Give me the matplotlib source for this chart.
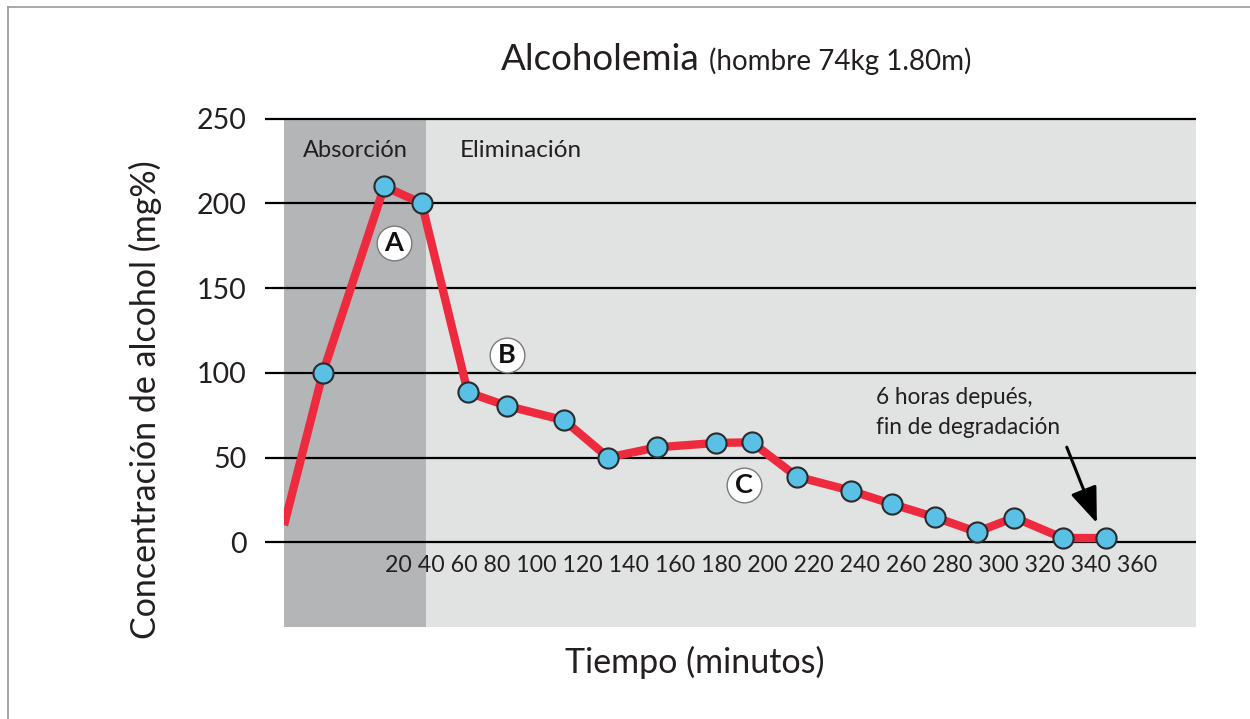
import matplotlib
matplotlib.use("Agg")
import matplotlib.pyplot as plt
from matplotlib.lines import Line2D

# ---------------- data ----------------
minutes = [0, 16.4, 42.3, 58.1, 77.5, 93.9, 118.1, 136.7, 157.2, 182.1, 197.3,
           216.2, 239.1, 256.5, 274.7, 292.2, 308.0, 328.4, 346.6]
alcohol = [10, 100, 210, 200, 88.5, 80.5, 72, 50, 56, 58.6, 59,
           38.8, 30.4, 22.5, 14.7, 6.1, 14.6, 2.5, 2.5]
has_marker = [False] + [True] * 18

y_ticks = [0, 50, 100, 150, 200, 250]
x_labels = ["20", "40", "60", "80", "100", "120", "140", "160", "180", "200",
            "220", "240", "260", "280", "300", "320", "340", "360"]
absorption_end = 60

title_main = "Alcoholemia"
title_sub = "(hombre 74kg 1.80m)"
x_title = "Tiempo (minutos)"
y_title = "Concentración de alcohol (mg%)"
phase_labels = ["Absorción", "Eliminación"]
letter_labels = ["A", "B", "C"]
letter_pos = [(46.4, 176.4), (93.9, 110.5), (194.1, 33.9)]
note_text = "6 horas depués,\nfin de degradación"

# ---------------- style ----------------
plt.rcParams['font.family'] = ['Lato', 'DejaVu Sans']
TXT = '#231f20'
RED = '#ee2a3e'
BLUE = '#5bc0e5'
DARK_BG = '#b3b5b6'
LIGHT_BG = '#e1e2e2'

W, H = 1250, 719
fig = plt.figure(figsize=(W / 100, H / 100), dpi=100)
fig.patch.set_facecolor('white')

# axes: x 0 at px 284, right edge px 1196; y 250 at px 118.6, -50 at px 627
ax = fig.add_axes([284 / W, 1 - 627 / H, (1196 - 284) / W, (627 - 118.6) / H])
ax.set_xlim(0, 384.6)
ax.set_ylim(-50, 250)
ax.set_facecolor(LIGHT_BG)
for s in ax.spines.values():
    s.set_visible(False)

ax.axvspan(0, absorption_end, color=DARK_BG, lw=0, zorder=0)

# grid lines (extend a bit left of the shaded area)
ax.hlines(y_ticks, -19 / 912, 1, transform=ax.get_yaxis_transform(),
          color='black', lw=1.6, clip_on=False, zorder=1)

ax.set_xticks([])
ax.set_yticks(y_ticks, labels=[str(v) for v in y_ticks])
ax.tick_params(axis='y', length=0, pad=27, labelsize=20.5, labelcolor=TXT)

# x labels as one run of text just under the 0 line
ax.text(205.4, -17.3, " ".join(x_labels), ha='center', va='baseline',
        fontsize=16.7, color=TXT, zorder=2)

# phase labels
ax.text(absorption_end / 2, 227.3, phase_labels[0], ha='center', va='baseline',
        fontsize=17, color=TXT)
ax.text(74.2, 227.3, phase_labels[1], ha='left', va='baseline',
        fontsize=17.5, color=TXT)

# line + markers
ax.plot(minutes, alcohol, color=RED, lw=6, solid_joinstyle='round',
        solid_capstyle='butt', zorder=3)
mx = [m for m, f in zip(minutes, has_marker) if f]
my = [a for a, f in zip(alcohol, has_marker) if f]
ax.plot(mx, my, 'o', ms=14.5, mfc=BLUE, mec='#2b2b2b', mew=1.5, zorder=4,
        clip_on=False)

# letter badges
for lab, (lx, ly) in zip(letter_labels, letter_pos):
    ax.plot(lx, ly, 'o', ms=25, mfc='white', mec='#7a7a7a', mew=1, zorder=5)
    ax.text(lx, ly, lab, ha='center', va='center', fontsize=19.5,
            fontweight='bold', color='#111111', zorder=6)

# annotation
ax.text(249.7, 76.5, note_text, ha='left', va='center', fontsize=16.3,
        color=TXT, linespacing=1.55)
ax.annotate('', xy=(342.8, 11.3), xytext=(330.1, 56.1),
            arrowprops=dict(arrowstyle='-|>,head_length=1.1,head_width=0.42',
                            color='black', lw=2.2, mutation_scale=20,
                            shrinkA=0, shrinkB=0), zorder=6)

# titles
t1 = fig.text(501 / W, 1 - 70 / H, title_main, ha='left', va='baseline',
              fontsize=26.5, color=TXT)
fig.canvas.draw()
bb = t1.get_window_extent()
fig.text((bb.x1 + 9) / W, 1 - 70 / H, title_sub, ha='left', va='baseline',
         fontsize=20, color=TXT)

fig.text(695 / W, 1 - 662 / H, x_title, ha='center', va='center',
         fontsize=24.5, color=TXT)
fig.text(145 / W, 1 - 400 / H, y_title, ha='center', va='center',
         rotation=90, fontsize=24.5, color=TXT)

# thin frame (left and top edges visible)
fig.add_artist(Line2D([8.3 / W, 8.3 / W], [1 - 6.7 / H, -0.1],
                      transform=fig.transFigure, color='#9a9a9a', lw=1.2))
fig.add_artist(Line2D([8.3 / W, 1.1], [1 - 6.7 / H, 1 - 6.7 / H],
                      transform=fig.transFigure, color='#9a9a9a', lw=1.2))

fig.savefig('out.png', dpi=100, facecolor='white')
